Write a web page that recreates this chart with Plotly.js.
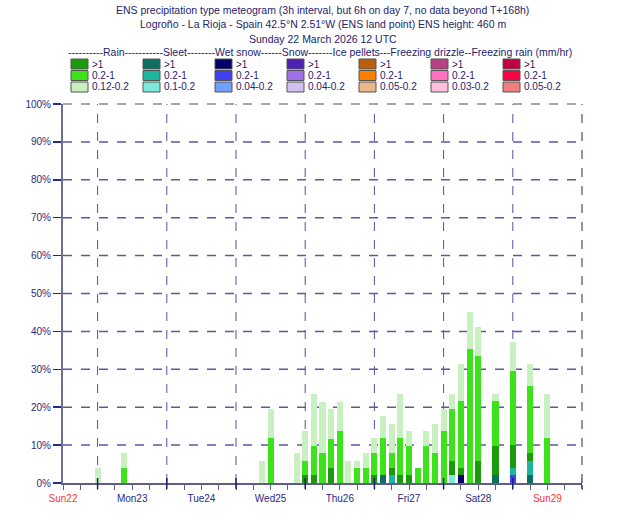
<!DOCTYPE html>
<html>
<head>
<meta charset="utf-8">
<script src="https://cdn.plot.ly/plotly-3.0.1.min.js"></script>
<style>html,body{margin:0;padding:0;background:#fff;}#chart{width:630px;height:525px;}</style>
</head>
<body>
<div id="chart"></div>
<script>
// Forecast hours after Sunday 22 March 2026 12 UTC (bar positions)
const hours = [12,21,69,72,81,84,87,90,93,96,99,102,105,108,111,114,117,120,123,126,129,132,135,138,141,144,150,156,162,168];

// Probabilities (%) per category, stacked bottom to top
const wetSnowHeavy = [0,0,0,0,0,0,0,0,0,0,0,0,0,0,0,0,0,0,0,0,0,0,0,2.0,0,0,0,0,0,0];
const wetSnowMod   = [0,0,0,0,0,0,0,0,0,0,0,0,0,0,0,0,0,0,0,0,0,0,0,0,0,0,0,2.0,0,0];
const sleetHeavy   = [0,0,0,0,0,0,0,0,0,0,0,0,0,0,2.0,0,0,0,0,0,0,0,0,0,0,0,2.0,0,2.0,0];
const sleetMod     = [0,0,0,0,0,0,0,0,0,0,0,0,0,0,0,2.0,0,0,0,0,0,0,0,0,0,0,0,2.0,3.9,0];
const sleetLight   = [0,0,0,0,0,0,0,0,0,0,0,0,0,0,0,0,0,0,0,0,0,0,2.0,0,0,0,0,0,0,0];
const rainHeavy    = [0,0,0,0,0,2.0,2.0,0,3.9,0,0,0,0,2.0,0,2.0,2.0,2.0,0,0,0,0,3.9,2.0,0,5.9,7.8,5.9,2.0,0];
const rainMod      = [0,3.9,0,11.8,0,3.9,7.8,7.8,7.8,13.7,0,3.9,3.9,5.9,9.8,3.9,9.8,7.8,3.9,9.8,7.8,13.7,13.7,17.6,35.3,27.5,11.8,19.6,17.6,11.8];
const rainLight    = [3.9,3.9,5.9,7.8,7.8,7.8,13.7,13.7,7.8,7.8,5.9,2.0,3.9,3.9,5.9,7.8,11.8,3.9,0,3.9,7.8,5.9,3.9,9.8,9.8,7.8,2.0,7.8,5.9,11.8];

// Axis labels
const dayHours  = [0,24,48,72,96,120,144,168];
const dayLabels = ["Sun22","Mon23","Tue24","Wed25","Thu26","Fri27","Sat28","Sun29"];
const dayColors = ["#ff3333","#2a2a80","#2a2a80","#2a2a80","#2a2a80","#2a2a80","#2a2a80","#ff3333"];
const yTicks = [0,10,20,30,40,50,60,70,80,90,100];
const yTickText = ["0%","10%","20%","30%","40%","50%","60%","70%","80%","90%","100%"];

// Legend content
const legendHeader = "----------Rain-----------Sleet--------Wet snow------Snow-------Ice pellets---Freezing drizzle--Freezing rain (mm/hr)";
const legendColors = [
  ["#1a9a0c","#3ce31a","#c8f0c0"],
  ["#0e6e62","#1eb5a0","#7ee8da"],
  ["#000066","#4040f0","#70a0ff"],
  ["#5020b0","#a070e8","#d0c0f0"],
  ["#b86010","#ff8000","#e8b888"],
  ["#b84080","#ff70c0","#ffc0e0"],
  ["#c00044","#ff0044","#f08080"]
];
const legendLabels = [
  [">1","0.2-1","0.12-0.2"],
  [">1","0.2-1","0.1-0.2"],
  [">1","0.2-1","0.04-0.2"],
  [">1","0.2-1","0.04-0.2"],
  [">1","0.2-1","0.05-0.2"],
  [">1","0.2-1","0.03-0.2"],
  [">1","0.2-1","0.05-0.2"]
];

const seriesList = [
  [wetSnowHeavy, legendColors[2][0]],
  [wetSnowMod, legendColors[2][1]],
  [sleetHeavy, legendColors[1][0]],
  [sleetMod, legendColors[1][1]],
  [sleetLight, legendColors[1][2]],
  [rainHeavy, legendColors[0][0]],
  [rainMod, legendColors[0][1]],
  [rainLight, legendColors[0][2]]
];

const traces = seriesList.map(s => ({
  type: "bar", x: hours, y: s[0], width: 2.1,
  marker: {color: s[1], line: {width: 0}},
  hoverinfo: "skip", showlegend: false
}));

// pixel -> paper helpers for legend/title layout
const L = 63, R = 582, T = 104, B = 483;
const px = v => (v - L) / (R - L);
const py = v => (B - v) / (B - T);

const tickVals = [], tickText = [];
for (let h = 0; h <= 180; h += 6) {
  tickVals.push(h);
  const i = dayHours.indexOf(h);
  tickText.push(i >= 0 ? '<span style="color:' + dayColors[i] + '">' + dayLabels[i] + '</span>' : "");
}

const titleColor = "#23236e";
const font = "Liberation Sans, Arial, sans-serif";
const annotations = [];
const titleLines = [
  ["ENS precipitation type meteogram (3h interval, but 6h on day 7, no data beyond T+168h)", 10],
  ["Logroño - La Rioja - Spain 42.5°N 2.51°W (ENS land point) ENS height: 460 m", 24],
  ["Sunday 22 March 2026 12 UTC", 39]
];
titleLines.forEach(t => annotations.push({
  text: t[0], xref: "paper", yref: "paper", x: 0.5, y: py(t[1]),
  xanchor: "center", yanchor: "middle", showarrow: false,
  font: {family: font, size: 10.5, color: titleColor}
}));
annotations.push({
  text: legendHeader, xref: "paper", yref: "paper", x: px(66), y: py(52),
  xanchor: "left", yanchor: "middle", showarrow: false,
  font: {family: font, size: 10.5, color: titleColor}
});
const shapes = [];
// horizontal dashed gridlines
yTicks.forEach(v => {
  if (v > 0 && v < 100) shapes.push({type: "line", xref: "x", yref: "y", x0: 0, x1: 180, y0: v, y1: v,
    layer: "below", line: {color: "#5a5aa2", width: 1.5, dash: "dash"}});
});
// midnight dashed gridlines and longer ticks
for (let h = 12; h <= 180; h += 24) {
  if (h < 180) shapes.push({type: "line", xref: "x", yref: "paper", x0: h, x1: h, y0: 0, y1: 1,
    layer: "below", line: {color: "#5252a0", width: 1, dash: "dash"}});
  shapes.push({type: "line", xref: "x", yref: "paper", x0: h, x1: h, y0: py(489), y1: py(478),
    line: {color: "#1e1e70", width: 1.5}});
}
const rowY = [64, 75.5, 87];
for (let c = 0; c < 7; c++) {
  for (let r = 0; r < 3; r++) {
    const x0 = 71 + 72 * c;
    shapes.push({type: "rect", xref: "paper", yref: "paper",
      x0: px(x0), x1: px(x0 + 17), y0: py(rowY[r] - 5), y1: py(rowY[r] + 5),
      fillcolor: legendColors[c][r], line: {color: "#555555", width: 1}});
    annotations.push({text: legendLabels[c][r], xref: "paper", yref: "paper",
      x: px(x0 + 19), y: py(rowY[r]), xanchor: "left", yanchor: "middle", showarrow: false,
      font: {family: font, size: 10, color: titleColor}});
  }
}
// plot frame: dashed top and right borders
shapes.push({type: "line", xref: "paper", yref: "paper", x0: 0, x1: 1, y0: 1, y1: 1,
  line: {color: "#aaa2ae", width: 2, dash: "dash"}});
shapes.push({type: "line", xref: "paper", yref: "paper", x0: 1, x1: 1, y0: 0, y1: 1,
  line: {color: "#7a7282", width: 1.5, dash: "dash"}});

const layout = {
  width: 630, height: 525,
  margin: {l: L, r: 630 - R, t: T, b: 525 - B},
  paper_bgcolor: "#ffffff", plot_bgcolor: "#ffffff",
  barmode: "stack", showlegend: false,
  font: {family: font, size: 10, color: titleColor},
  xaxis: {
    range: [0, 180], tickmode: "array", tickvals: tickVals, ticktext: tickText,
    showgrid: false, zeroline: false, showline: true, linecolor: "#5e5e86", linewidth: 2,
    ticks: "outside", ticklen: 5, tickwidth: 1, tickcolor: "#5e5e86",
    tickfont: {family: font, size: 10, color: "#2a2a80"}, fixedrange: true
  },
  yaxis: {
    range: [0, 100], tickmode: "array", tickvals: yTicks, ticktext: yTickText,
    showgrid: false, zeroline: false, showline: true, linecolor: "#6e6e92", linewidth: 2,
    ticks: "outside", ticklen: 8, tickwidth: 1.5, tickcolor: "#2a2a80",
    tickfont: {family: font, size: 10, color: "#2a2a80"}, fixedrange: true
  },
  annotations: annotations,
  shapes: shapes
};

Plotly.newPlot("chart", traces, layout, {displayModeBar: false, staticPlot: true});
</script>
</body>
</html>
